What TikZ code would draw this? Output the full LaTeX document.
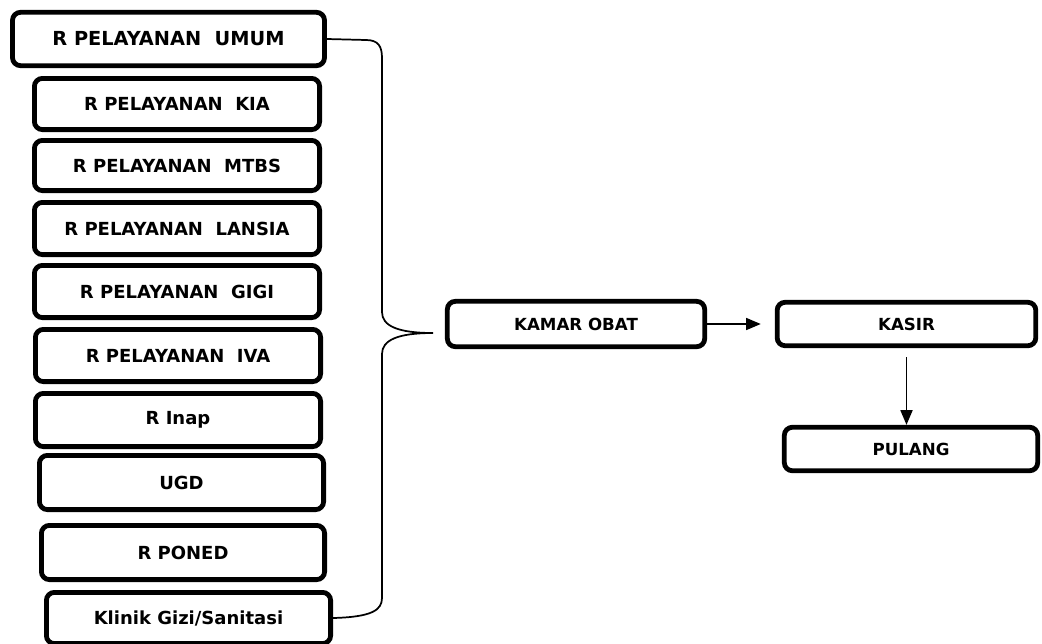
\documentclass[tikz,border=0pt]{standalone}
\usepackage{fontspec}
\setmainfont{DejaVu Sans}
\usetikzlibrary{arrows.meta}
\tikzset{basic/.style={draw,line width=3.6pt,rounded corners=6pt,fill=white,
                       inner sep=0pt,text badly centered}}
\tikzset{room/.style={basic,font=\bfseries\fontsize{13.5}{15}\selectfont}}
\tikzset{station/.style={basic,font=\bfseries\fontsize{12.5}{15}\selectfont}}
\tikzset{flow/.style={line width=1.2pt,-{Triangle[length=11pt,width=9pt]}}}
\tikzset{bracket/.style={line width=1.3pt}}

\begin{document}
\begin{tikzpicture}[x=0.75pt,y=-0.75pt]
    \useasboundingbox (0,0) rectangle (1042,643);
    \clip (0,0) rectangle (1042,643);
    % Draw the first service room
    \node[room,font=\bfseries\fontsize{14.5}{17}\selectfont,
          minimum width=234pt,minimum height=40pt] (r1) at (168.5,39) {R PELAYANAN\ \ UMUM};
    % Draw the other service rooms
    \foreach \h/\cx/\cy/\w/\bh [count=\hi from 2] in {%
          {R PELAYANAN\ \ KIA}/177/104/290/56,
          {R PELAYANAN\ \ MTBS}/177/165.5/290/55,
          {R PELAYANAN\ \ LANSIA}/177/228.5/290/57,
          {R PELAYANAN\ \ GIGI}/177/291.5/290/57,
          {R PELAYANAN\ \ IVA}/178/355.5/290/57,
          {R Inap}/178/420/290/58,
          {UGD}/181.5/482.5/289/59,
          {R PONED}/183/552.5/288/59,
          {Klinik Gizi/Sanitasi}/188.5/618/289/56}{%
          \node[room,minimum width={(\w-4.8)*0.75pt},
                minimum height={(\bh-4.8)*0.75pt}] (r\hi) at (\cx,\cy) {\h};
        }
    % Draw pharmacy, cashier and exit
    \node[station,minimum width=193pt,minimum height=34pt] (kamar) at (576,324) {KAMAR OBAT};
    \node[station,minimum width=194pt,minimum height=32.6pt] (kasir) at (906.5,324) {KASIR};
    \node[station,minimum width=190pt,minimum height=32.6pt] (pulang) at (911,449) {PULANG};
    % Brace gathering all rooms
    \coordinate (tip) at (433,333);
    \draw[bracket] (r1.east) -- (366,40) .. controls (378,40) and (382,46) .. (382,58)
          -- (382,312) .. controls (382,326) and (398,333) .. (tip)
          .. controls (398,333) and (382,340) .. (382,354)
          -- (382,598) .. controls (382,610) and (372,617) .. (r10.east);
    % Connect pharmacy to cashier to exit
    \draw[flow,shorten >=10.5pt] (kamar) -- (kasir);
    \draw[flow,shorten <=7pt] (kasir.south) -- (kasir.south |- pulang.north);
\end{tikzpicture}
\end{document}
